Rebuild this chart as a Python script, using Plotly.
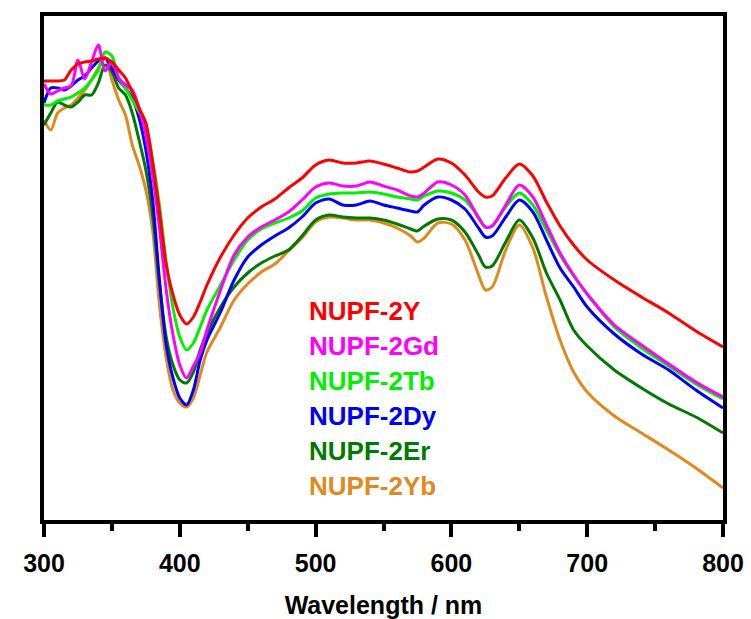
import plotly.graph_objects as go

# Wavelength grid (nm)
wavelength = [300, 305, 310, 315, 320, 325, 330, 335, 340, 345, 350, 355, 360, 365, 370,
              375, 380, 385, 390, 395, 400, 405, 410, 415, 420, 430, 440, 450, 460, 470,
              480, 490, 500, 510, 520, 530, 540, 550, 560, 570, 575, 580, 590, 600, 610,
              620, 625, 630, 640, 650, 660, 670, 680, 690, 700, 720, 740, 760, 780, 800]

# Absorbance (a.u.) of each compound
nupf_2y = [4.40, 4.40, 4.40, 4.41, 4.51, 4.57, 4.59, 4.60, 4.62, 4.63, 4.59, 4.51, 4.43, 4.29, 4.13,
           3.98, 3.58, 3.09, 2.56, 2.26, 2.06, 1.97, 2.04, 2.19, 2.36, 2.64, 2.86, 3.03, 3.14, 3.22,
           3.33, 3.43, 3.56, 3.61, 3.58, 3.58, 3.60, 3.57, 3.53, 3.49, 3.50, 3.54, 3.62, 3.58, 3.46,
           3.29, 3.24, 3.25, 3.43, 3.57, 3.45, 3.19, 2.95, 2.76, 2.61, 2.41, 2.24, 2.08, 1.90, 1.74]
nupf_2gd = [4.37, 4.27, 4.30, 4.33, 4.35, 4.61, 4.42, 4.59, 4.76, 4.50, 4.59, 4.43, 4.36, 4.31, 4.13,
            3.86, 3.46, 2.93, 2.31, 1.86, 1.56, 1.43, 1.55, 1.68, 1.91, 2.31, 2.66, 2.84, 2.94, 3.01,
            3.09, 3.21, 3.34, 3.38, 3.35, 3.35, 3.39, 3.35, 3.31, 3.25, 3.24, 3.28, 3.39, 3.36, 3.26,
            3.03, 2.94, 2.95, 3.16, 3.36, 3.24, 2.96, 2.68, 2.46, 2.27, 1.96, 1.76, 1.57, 1.39, 1.24]
nupf_2tb = [4.16, 4.16, 4.20, 4.22, 4.24, 4.28, 4.33, 4.41, 4.51, 4.69, 4.65, 4.43, 4.33, 4.21, 4.09,
            3.96, 3.61, 3.16, 2.59, 2.13, 1.84, 1.71, 1.78, 1.94, 2.11, 2.36, 2.61, 2.81, 2.92, 2.98,
            3.03, 3.10, 3.23, 3.27, 3.28, 3.28, 3.29, 3.27, 3.24, 3.22, 3.21, 3.25, 3.30, 3.28, 3.21,
            3.04, 2.94, 2.95, 3.14, 3.28, 3.16, 2.91, 2.66, 2.45, 2.27, 1.94, 1.73, 1.55, 1.37, 1.22]
nupf_2dy = [4.18, 4.33, 4.33, 4.31, 4.35, 4.41, 4.45, 4.53, 4.60, 4.63, 4.53, 4.41, 4.33, 4.23, 4.03,
            3.71, 3.21, 2.41, 1.76, 1.43, 1.23, 1.16, 1.31, 1.61, 1.81, 2.09, 2.41, 2.64, 2.76, 2.85,
            2.93, 3.04, 3.18, 3.22, 3.16, 3.16, 3.20, 3.16, 3.13, 3.10, 3.09, 3.16, 3.24, 3.21, 3.12,
            2.93, 2.84, 2.85, 3.04, 3.21, 3.09, 2.81, 2.53, 2.34, 2.14, 1.87, 1.67, 1.51, 1.31, 1.13]
nupf_2er = [3.96, 4.08, 4.19, 4.16, 4.14, 4.19, 4.26, 4.26, 4.38, 4.56, 4.49, 4.33, 4.26, 4.08, 3.81,
            3.51, 3.06, 2.38, 1.84, 1.56, 1.41, 1.38, 1.49, 1.71, 1.88, 2.14, 2.34, 2.48, 2.58, 2.65,
            2.71, 2.85, 3.01, 3.06, 3.04, 3.03, 3.03, 3.01, 2.97, 2.92, 2.90, 2.95, 3.02, 3.01, 2.89,
            2.66, 2.54, 2.55, 2.79, 3.01, 2.83, 2.48, 2.21, 1.91, 1.75, 1.51, 1.33, 1.17, 1.04, 0.88]
nupf_2yb = [4.01, 3.91, 4.08, 4.13, 4.16, 4.23, 4.31, 4.41, 4.53, 4.63, 4.41, 4.21, 4.06, 3.76, 3.56,
            3.31, 2.91, 2.16, 1.63, 1.31, 1.18, 1.14, 1.23, 1.46, 1.69, 1.94, 2.21, 2.37, 2.49, 2.57,
            2.70, 2.83, 2.99, 3.04, 3.03, 3.01, 3.01, 2.98, 2.93, 2.85, 2.79, 2.83, 2.98, 2.97, 2.81,
            2.46, 2.31, 2.34, 2.71, 2.96, 2.73, 2.24, 1.81, 1.49, 1.29, 1.05, 0.88, 0.71, 0.53, 0.33]

names = ["NUPF-2Y", "NUPF-2Gd", "NUPF-2Tb", "NUPF-2Dy", "NUPF-2Er", "NUPF-2Yb"]
series = [nupf_2y, nupf_2gd, nupf_2tb, nupf_2dy, nupf_2er, nupf_2yb]
colors = ["#FF0000", "#FF00FF", "#00F000", "#0000FF", "#007A00", "#E0891C"]

FONT = "Liberation Sans, Arial, sans-serif"

fig = go.Figure()
# draw the lower curves first so the upper ones sit on top
for name, ys, col in reversed(list(zip(names, series, colors))):
    fig.add_trace(go.Scatter(
        x=wavelength, y=ys, name=name, mode="lines",
        line=dict(color=col, width=3, shape="spline", smoothing=0.8),
        showlegend=False,
    ))

# coloured text key
key_top = 0.415
key_step = 0.0694
for i, (name, col) in enumerate(zip(names, colors)):
    fig.add_annotation(
        x=0.387, y=key_top - i * key_step, xref="paper", yref="paper",
        xanchor="left", yanchor="middle", showarrow=False, text=name,
        font=dict(family=FONT, size=26, color=col, weight="bold"),
    )

fig.update_layout(
    width=751, height=619,
    margin=dict(l=44, r=28, t=16, b=99),
    paper_bgcolor="white", plot_bgcolor="white",
    xaxis=dict(
        range=[300, 800], tickmode="array", tickvals=[300, 400, 500, 600, 700, 800],
        ticks="outside", ticklen=13, tickwidth=3.5, tickcolor="black",
        minor=dict(dtick=50, tick0=350, ticks="outside", ticklen=7, tickwidth=3.5, tickcolor="black"),
        showline=True, linewidth=4, linecolor="black", mirror=True,
        showgrid=False, zeroline=False, ticklabelstandoff=5, automargin=False,
        tickfont=dict(family=FONT, size=25, color="black", weight="bold"),
        title=dict(text="Wavelength / nm", standoff=26,
                   font=dict(family=FONT, size=25, color="black", weight="bold")),
    ),
    yaxis=dict(
        range=[0.01, 5.05], showticklabels=False, ticks="", automargin=False,
        showline=True, linewidth=4, linecolor="black", mirror=True,
        showgrid=False, zeroline=False,
    ),
)

fig.write_html("out.html")
